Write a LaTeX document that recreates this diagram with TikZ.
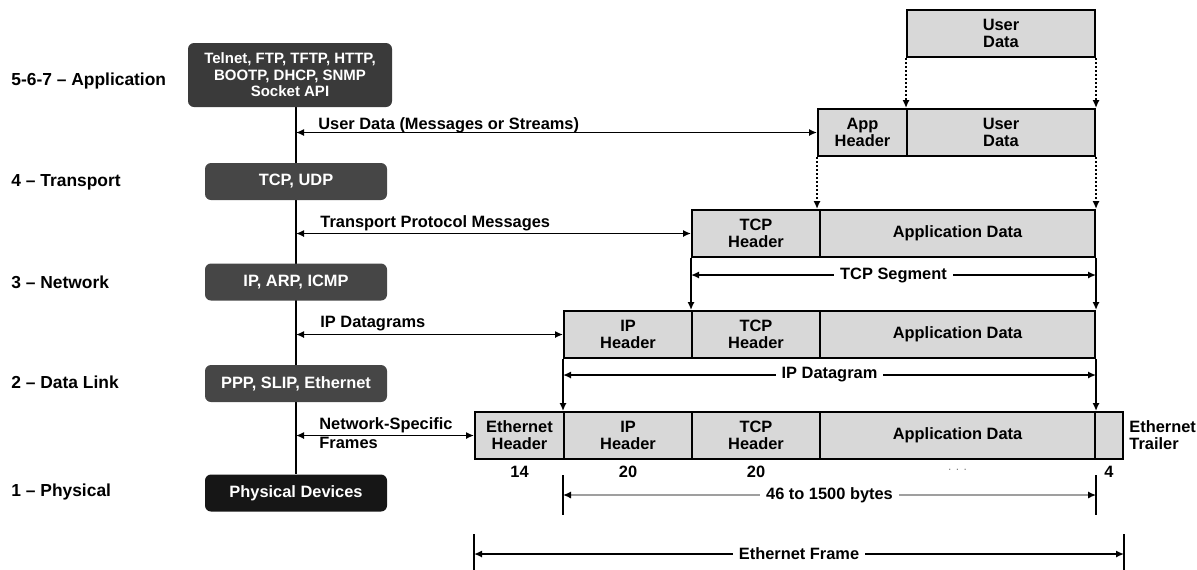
\documentclass[tikz,border=0pt]{standalone}
\usepackage{fontspec}
\setmainfont{Liberation Sans}
\usetikzlibrary{arrows.meta,backgrounds}
\definecolor{boxgray}{RGB}{70,70,70}
\definecolor{appgray}{RGB}{58,58,58}
\definecolor{physblack}{RGB}{22,22,22}
\definecolor{cellgray}{RGB}{216,216,216}
\begin{document}
\begin{tikzpicture}[x=0.5pt,y=-0.5pt,
  font=\bfseries\fontsize{8.2}{9}\selectfont,
  tip/.tip={Latex[length=4pt,width=3.6pt]},
  layerlab/.style={font=\bfseries\fontsize{8.7}{10}\selectfont, anchor=west, inner sep=0pt},
  proto/.style={fill=boxgray, rounded corners=3pt, text=white, minimum width=91pt,
    minimum height=18.5pt, inner sep=0pt, align=center},
  cell/.style={draw, fill=cellgray, line width=1pt, minimum height=23.5pt, inner sep=0pt,
    anchor=north west, align=center, font=\bfseries\fontsize{8.2}{8.6}\selectfont},
  arrlab/.style={anchor=base west, inner sep=0pt},
  both/.style={tip-tip, line width=0.8pt},
  down/.style={-tip, line width=0.9pt},
  dotdown/.style={-tip, line width=1pt, densely dotted},
  dimlab/.style={fill=white, inner sep=3pt},
  num/.style={anchor=north, inner sep=0pt},
  tick/.style={line width=0.9pt}
]
\useasboundingbox (0,0) rectangle (1197,569);

% layer labels
\node[layerlab] (l7) at (11,81) {5-6-7 -- Application};
\node[layerlab] (l4) at (11,182) {4 -- Transport};
\node[layerlab] (l3) at (11,282) {3 -- Network};
\node[layerlab] (l2) at (11,382) {2 -- Data Link};
\node[layerlab] (l1) at (11,492) {1 -- Physical};

% protocol boxes
\node[proto, fill=appgray, minimum width=102pt, minimum height=32pt,
  font=\bfseries\fontsize{7.5}{8.3}\selectfont] (app) at (290,75)
  {Telnet, FTP, TFTP, HTTP,\\BOOTP, DHCP, SNMP\\Socket API};
\node[proto] (tcp) at (296,181.5) {TCP, UDP};
\node[proto] (ip) at (296,282) {IP, ARP, ICMP};
\node[proto] (ppp) at (296,383.5) {PPP, SLIP, Ethernet};
\node[proto, fill=physblack] (phys) at (296,493) {Physical Devices};

\begin{scope}[on background layer]
\draw[line width=1.1pt] (app.south -| phys.north) -- (phys.north);
\end{scope}

% packet rows
\node[cell, minimum width=94pt] (ud0) at (906,9) {User\\Data};

\node[cell, minimum width=44.5pt] (ah) at (817,108) {App\\Header};
\node[cell, minimum width=94pt] (ud1) at (906,108) {User\\Data};

\node[cell, minimum width=64pt] (th2) at (691,209) {TCP\\Header};
\node[cell, minimum width=137.5pt] (ad2) at (819,209) {Application Data};

\node[cell, minimum width=64pt] (ih3) at (563,310) {IP\\Header};
\node[cell, minimum width=64pt] (th3) at (691,310) {TCP\\Header};
\node[cell, minimum width=137.5pt] (ad3) at (819,310) {Application Data};

\node[cell, minimum width=44.5pt] (eh) at (474,411) {Ethernet\\Header};
\node[cell, minimum width=64pt] (ih4) at (563,411) {IP\\Header};
\node[cell, minimum width=64pt] (th4) at (691,411) {TCP\\Header};
\node[cell, minimum width=137.5pt] (ad4) at (819,411) {Application Data};
\node[cell, minimum width=14pt] (et) at (1094,411) {};

\node[anchor=west, align=left, inner sep=0pt, font=\bfseries\fontsize{8.2}{8.6}\selectfont]
  (etl) at ([xshift=2.5pt]et.east) {Ethernet\\Trailer};

% byte counts
\node[num] (n14) at ([yshift=-3pt]eh.south) {14};
\node[num] (n20a) at ([yshift=-3pt]ih4.south) {20};
\node[num] (n20b) at ([yshift=-3pt]th4.south) {20};
\node[num, text=gray, font=\fontsize{6}{6}\selectfont] (ndots) at ([yshift=-4pt]ad4.south) {. . .};
\node[num] (n4) at ([yshift=-3pt]et.south) {4};

% arrows from stack line
\draw[both] (ah.west -| phys.north) -- (ah.west);
\node[arrlab] (t1) at (318,129) {User Data (Messages or Streams)};
\draw[both] (th2.west -| phys.north) -- (th2.west);
\node[arrlab] (t2) at (320,227) {Transport Protocol Messages};
\draw[both] (ih3.west -| phys.north) -- (ih3.west);
\node[arrlab] (t3) at (320,327) {IP Datagrams};
\draw[both] (eh.west -| phys.north) -- (eh.west);
\node[arrlab] (t4) at (319,429) {Network-Specific};
\node[arrlab] (t5) at (319,448) {Frames};

% encapsulation arrows
\draw[dotdown] (ud0.south west) -- (ud1.north west);
\draw[dotdown] (ud0.south east) -- (ud1.north east);
\draw[dotdown] (ah.south west) -- (ah.south west |- ad2.north);
\draw[dotdown] (ud1.south east) -- (ad2.north east);
\draw[down] (th2.south west) -- (th3.north west);
\draw[down] (ad2.south east) -- (ad3.north east);
\draw[down] (ih3.south west) -- (ih4.north west);
\draw[down] (ad3.south east) -- (ad4.north east);

% dimension lines
\coordinate (ts1) at ([yshift=-8.5pt]th2.south west);
\coordinate (ts2) at ([yshift=-8.5pt]ad2.south east);
\draw[both] (ts1) -- node[dimlab] {TCP Segment} (ts2);

\coordinate (id1) at ([yshift=-8pt]ih3.south west);
\coordinate (id2) at ([yshift=-8pt]ad3.south east);
\draw[both] (id1) -- node[dimlab] {IP Datagram} (id2);

\coordinate (b1t) at ([yshift=-7.5pt]ih4.south west);
\coordinate (b1b) at ([yshift=-27.5pt]ih4.south west);
\coordinate (b2t) at ([yshift=-7.5pt]ad4.south east);
\coordinate (b2b) at ([yshift=-27.5pt]ad4.south east);
\draw[tick] (b1t) -- (b1b);
\draw[tick] (b2t) -- (b2b);
\coordinate (b1m) at ([yshift=-17.5pt]ih4.south west);
\coordinate (b2m) at ([yshift=-17.5pt]ad4.south east);
\draw[both, draw=gray!75, line width=0.7pt, {Latex[length=4pt,width=3.6pt,black]}-{Latex[length=4pt,width=3.6pt,black]}]
  (b1m) -- node[dimlab] {46 to 1500 bytes} (b2m);

\coordinate (f1t) at ([yshift=-37pt]eh.south west);
\coordinate (f1b) at ([yshift=-56pt]eh.south west);
\coordinate (f2t) at ([yshift=-37pt]et.south east);
\coordinate (f2b) at ([yshift=-56pt]et.south east);
\draw[tick] (f1t) -- (f1b);
\draw[tick] (f2t) -- (f2b);
\coordinate (f1m) at ([yshift=-47pt]eh.south west);
\coordinate (f2m) at ([yshift=-47pt]et.south east);
\draw[both] (f1m) -- node[dimlab] {Ethernet Frame} (f2m);
\end{tikzpicture}
\end{document}
